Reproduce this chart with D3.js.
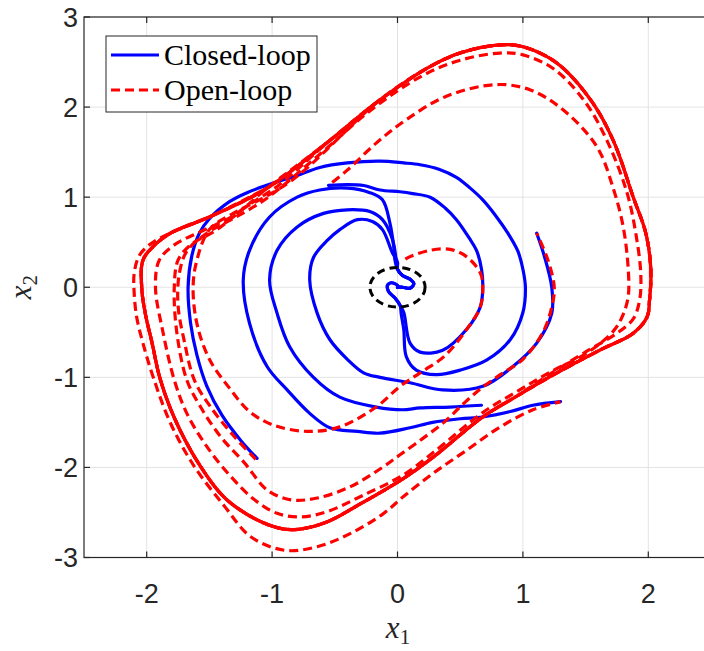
<!DOCTYPE html>
<html>
<head>
<meta charset="utf-8">
<script src="https://cdn.jsdelivr.net/npm/d3@7"></script>
<style>
  body { margin: 0; background: #fff; }
  svg { display: block; }
</style>
</head>
<body>
<svg id="chart" width="704" height="651"></svg>
<script>
// ---- axes ----
const xTicks = [-2, -1, 0, 1, 2];
const yTicks = [-3, -2, -1, 0, 1, 2, 3];
const xDomain = [-2.5, 2.5];
const yDomain = [-3, 3];

// ---- closed-loop trajectories (x1, x2) ----
const closedTailTop = [[0.0, 0.2], [0.04, 0.13], [0.1, 0.09], [0.13, 0.04], [0.1, -0.01], [0.04, 0.0], [0.0, 0.0]];
const closedTailBottom = [[0.02, -0.2], [-0.02, -0.12], [-0.07, -0.05], [-0.08, 0.02], [-0.05, 0.05], [0.0, 0.02], [0.0, 0.0]];

const closed1 = [[-1.12, -1.9], [-1.25, -1.7], [-1.4, -1.42], [-1.52, -1.1], [-1.6, -0.75], [-1.65, -0.4], [-1.67, 0],
  [-1.64, 0.35], [-1.58, 0.6], [-1.5, 0.76], [-1.34, 0.95], [-1.2, 1.05], [-0.94, 1.18], [-0.8, 1.24], [-0.62, 1.33],
  [-0.4, 1.38], [-0.14, 1.4], [0.05, 1.38], [0.18, 1.36], [0.33, 1.31], [0.47, 1.22], [0.58, 1.1], [0.68, 0.97],
  [0.78, 0.8], [0.88, 0.6], [0.96, 0.4], [1.0, 0.2], [1.02, 0], [1.0, -0.28], [0.9, -0.58], [0.71, -0.81],
  [0.5, -0.92], [0.31, -0.97], [0.15, -0.92], [0.07, -0.77], [0.05, -0.47], [0.03, -0.3]];
const closed2 = [[1.3, -1.27], [1.08, -1.31], [0.9, -1.38], [0.68, -1.44], [0.5, -1.46], [0.28, -1.5], [0.1, -1.56],
  [-0.14, -1.62], [-0.32, -1.6], [-0.54, -1.56], [-0.7, -1.4], [-0.88, -1.14], [-1.04, -0.88], [-1.18, -0.4],
  [-1.23, 0.08], [-1.18, 0.41], [-1.02, 0.78], [-0.8, 1.0], [-0.62, 1.08], [-0.4, 1.1], [-0.22, 1.05],
  [-0.12, 0.97], [-0.06, 0.71], [-0.03, 0.45], [-0.02, 0.3]];
const closed3 = [[0.67, -1.31], [0.42, -1.33], [0.18, -1.34], [0.04, -1.36], [-0.17, -1.33], [-0.46, -1.22],
  [-0.67, -1.0], [-0.86, -0.66], [-0.96, -0.29], [-1.02, 0.08], [-0.96, 0.41], [-0.8, 0.67], [-0.59, 0.82],
  [-0.4, 0.86], [-0.22, 0.84], [-0.12, 0.75], [-0.04, 0.53], [-0.01, 0.3]];
const closed4 = [[1.11, 0.6], [1.17, 0.35], [1.23, 0], [1.23, -0.29], [1.11, -0.62], [0.92, -0.88], [0.68, -1.1],
  [0.36, -1.14], [0.1, -1.06], [-0.14, -1.0], [-0.27, -0.95], [-0.4, -0.8], [-0.54, -0.58], [-0.64, -0.29],
  [-0.7, 0.08], [-0.67, 0.33], [-0.56, 0.52], [-0.46, 0.64], [-0.32, 0.75], [-0.2, 0.73], [-0.12, 0.64],
  [-0.04, 0.38], [0.0, 0.28]];
const closed5 = [[-0.55, 1.13], [-0.4, 1.14], [-0.27, 1.13], [-0.14, 1.08], [0.02, 1.06], [0.12, 1.04], [0.26, 1.0],
  [0.38, 0.88], [0.47, 0.75], [0.57, 0.55], [0.63, 0.41], [0.67, 0.2], [0.68, 0], [0.66, -0.22], [0.55, -0.47],
  [0.36, -0.7], [0.18, -0.72], [0.1, -0.62], [0.05, -0.28]];

// ---- open-loop: limit cycle (clockwise) and transients ----
const limitCycle = [[-2.04, 0.0], [-2.03, 0.3], [-1.95, 0.45], [-1.81, 0.6], [-1.5, 0.78], [-1.04, 1.1],
  [-0.54, 1.63], [-0.14, 2.08], [0.26, 2.45], [0.52, 2.61], [0.82, 2.69], [1.0, 2.67], [1.27, 2.49],
  [1.54, 2.08], [1.72, 1.63], [1.88, 1.0], [1.98, 0.6], [2.02, 0.2], [2.01, -0.14], [1.99, -0.33],
  [1.88, -0.51], [1.61, -0.7], [1.22, -0.99], [0.95, -1.21], [0.68, -1.44], [0.29, -1.88], [0.05, -2.12],
  [-0.29, -2.4], [-0.59, -2.62], [-0.85, -2.69], [-1.06, -2.62], [-1.36, -2.36], [-1.57, -1.99],
  [-1.76, -1.51], [-1.89, -1.03], [-1.96, -0.6], [-2.01, -0.3]];

const open1 = [[-1.13, -1.91], [-1.3, -1.66], [-1.49, -1.33], [-1.62, -1.03], [-1.7, -0.6], [-1.75, -0.2],
  [-1.74, 0.15], [-1.68, 0.4], [-1.52, 0.6], [-1.3, 0.77], [-1.05, 0.98], [-0.6, 1.5], [-0.2, 1.98],
  [0.2, 2.35], [0.5, 2.52], [0.82, 2.6], [1.0, 2.58], [1.25, 2.42], [1.5, 2.05], [1.68, 1.6], [1.83, 1.05],
  [1.9, 0.6], [1.94, 0.15], [1.93, -0.15], [1.88, -0.35], [1.75, -0.51], [1.51, -0.71], [1.22, -0.96]];
const open2 = [[1.3, -1.27], [1.08, -1.36], [0.82, -1.55], [0.55, -1.81], [0.29, -2.06], [0.05, -2.32],
  [-0.11, -2.51], [-0.37, -2.73], [-0.64, -2.88], [-0.9, -2.92], [-1.17, -2.77], [-1.38, -2.43],
  [-1.62, -1.99], [-1.81, -1.51], [-1.95, -0.99], [-2.03, -0.62], [-2.08, -0.33], [-2.1, -0.06],
  [-2.1, 0.15], [-2.06, 0.35], [-1.97, 0.48], [-1.83, 0.59], [-1.62, 0.71]];
const open4 = [[1.11, 0.6], [1.2, 0.3], [1.25, 0], [1.23, -0.22], [1.16, -0.5], [1.0, -0.8], [0.82, -0.97],
  [0.66, -1.13], [0.52, -1.3], [0.37, -1.5], [0.2, -1.68], [0.02, -1.86], [-0.11, -1.99], [-0.37, -2.21],
  [-0.64, -2.34], [-0.85, -2.36], [-1.04, -2.25], [-1.22, -1.95], [-1.41, -1.66], [-1.57, -1.33],
  [-1.68, -1.03], [-1.76, -0.5], [-1.78, 0], [-1.75, 0.3], [-1.65, 0.47], [-1.45, 0.63], [-1.2, 0.9],
  [-0.95, 1.13]];
const open5 = [[-0.55, 1.13], [-0.4, 1.3], [-0.17, 1.6], [0.07, 1.86], [0.39, 2.12], [0.79, 2.25], [1.06, 2.19],
  [1.32, 1.97], [1.59, 1.56], [1.72, 1.1], [1.8, 0.67], [1.84, 0.2], [1.84, -0.1], [1.8, -0.3], [1.72, -0.49],
  [1.51, -0.73], [1.22, -0.94], [0.95, -1.16], [0.68, -1.39], [0.29, -1.83], [0.05, -2.08], [-0.29, -2.32],
  [-0.56, -2.49], [-0.77, -2.55], [-0.96, -2.51], [-1.14, -2.36], [-1.33, -2.1], [-1.52, -1.77],
  [-1.68, -1.4], [-1.78, -1.03], [-1.87, -0.5], [-1.93, 0], [-1.9, 0.3], [-1.78, 0.47], [-1.55, 0.63],
  [-1.3, 0.8]];
const open6 = [[0.05, 0.3], [0.1, 0.34], [0.26, 0.41], [0.42, 0.42], [0.55, 0.34], [0.66, 0.16], [0.68, 0],
  [0.66, -0.22], [0.55, -0.47], [0.37, -0.77], [0.18, -0.95], [0.02, -1.1], [-0.17, -1.33], [-0.46, -1.55],
  [-0.72, -1.6], [-0.99, -1.53], [-1.18, -1.38], [-1.34, -1.12], [-1.5, -0.8], [-1.6, -0.4], [-1.63, 0],
  [-1.6, 0.3], [-1.5, 0.64], [-1.31, 0.82], [-1.1, 0.97], [-0.88, 1.15], [-0.7, 1.35]];

// index of the limit-cycle point where each transient joins it
const openMerge = [23, 4, 6, 5, 7];

// region around the origin
const regionCenter = [0, 0];
const regionRadius = 0.22;

const legendLabels = ["Closed-loop", "Open-loop"];

// ---- layout ----
const plot = { left: 84, top: 17, right: 711, bottom: 557.5 };
const svg = d3.select("#chart");
const x = d3.scaleLinear().domain(xDomain).range([plot.left, plot.right]);
const y = d3.scaleLinear().domain(yDomain).range([plot.bottom, plot.top]);
const axisColor = "#262626";

svg.append("defs").append("clipPath").attr("id", "plotClip")
  .append("rect").attr("x", plot.left).attr("y", plot.top)
  .attr("width", plot.right - plot.left).attr("height", plot.bottom - plot.top);

// grid
const grid = svg.append("g").attr("stroke", "#e3e3e3").attr("stroke-width", 1);
grid.selectAll("line.gx").data(xTicks).join("line")
  .attr("x1", d => x(d)).attr("x2", d => x(d)).attr("y1", plot.top).attr("y2", plot.bottom);
grid.selectAll("line.gy").data(yTicks).join("line")
  .attr("y1", d => y(d)).attr("y2", d => y(d)).attr("x1", plot.left).attr("x2", plot.right);

// curves
const line = d3.line().x(d => x(d[0])).y(d => y(d[1])).curve(d3.curveCatmullRom.alpha(0.5));
const data = svg.append("g").attr("clip-path", "url(#plotClip)");

const closedPaths = [
  closed1.concat(closedTailBottom),
  closed2.concat(closedTailTop),
  closed3.concat(closedTailTop),
  closed4.concat(closedTailTop),
  closed5.concat(closedTailBottom)
];
data.selectAll("path.closed").data(closedPaths).join("path")
  .attr("class", "closed")
  .attr("d", line)
  .attr("fill", "none").attr("stroke", "#0000ff").attr("stroke-width", 3.2)
  .attr("stroke-linejoin", "round").attr("stroke-linecap", "round");

// each transient runs on for one lap of the limit cycle after joining it
function joinCycle(transient, k) {
  const out = transient.slice();
  const n = limitCycle.length;
  for (let i = 0; i <= n; i++) out.push(limitCycle[(k + i) % n]);
  return out;
}
const openPaths = [
  joinCycle(open1, openMerge[0]),
  joinCycle(open2, openMerge[1]),
  joinCycle(open4, openMerge[2]),
  joinCycle(open5, openMerge[3]),
  joinCycle(open6, openMerge[4])
];
data.selectAll("path.open").data(openPaths).join("path")
  .attr("class", "open")
  .attr("d", line)
  .attr("fill", "none").attr("stroke", "#ff0000").attr("stroke-width", 3.2)
  .attr("stroke-dasharray", "9,5")
  .attr("stroke-dashoffset", (d, i) => i * 3);

// dashed region around the origin
data.append("ellipse")
  .attr("cx", x(regionCenter[0])).attr("cy", y(regionCenter[1]))
  .attr("rx", x(regionRadius) - x(0)).attr("ry", y(0) - y(regionRadius))
  .attr("fill", "none").attr("stroke", "#000").attr("stroke-width", 3)
  .attr("stroke-dasharray", "8,5");

// frame and ticks
svg.append("rect")
  .attr("x", plot.left).attr("y", plot.top)
  .attr("width", plot.right - plot.left).attr("height", plot.bottom - plot.top)
  .attr("fill", "none").attr("stroke", axisColor).attr("stroke-width", 1.2);
const tickLen = 6;
const ticks = svg.append("g").attr("stroke", axisColor).attr("stroke-width", 1.2);
ticks.selectAll("line.tb").data(xTicks).join("line")
  .attr("x1", d => x(d)).attr("x2", d => x(d)).attr("y1", plot.bottom).attr("y2", plot.bottom - tickLen);
ticks.selectAll("line.tt").data(xTicks).join("line")
  .attr("x1", d => x(d)).attr("x2", d => x(d)).attr("y1", plot.top).attr("y2", plot.top + tickLen);
ticks.selectAll("line.tl").data(yTicks).join("line")
  .attr("y1", d => y(d)).attr("y2", d => y(d)).attr("x1", plot.left).attr("x2", plot.left + tickLen);

// tick labels
const tickFont = "'Liberation Sans', Arial, sans-serif";
svg.append("g").selectAll("text").data(xTicks).join("text")
  .attr("x", d => x(d)).attr("y", 603)
  .attr("text-anchor", "middle").attr("font-family", tickFont).attr("font-size", 27)
  .attr("fill", axisColor).text(d => d);
svg.append("g").selectAll("text").data(yTicks).join("text")
  .attr("x", 78).attr("y", d => y(d) + 9.8)
  .attr("text-anchor", "end").attr("font-family", tickFont).attr("font-size", 27)
  .attr("fill", axisColor).text(d => d);

// axis labels
const mathFont = "'Liberation Serif', 'Times New Roman', serif";
const xl = svg.append("text").attr("x", 398).attr("y", 638).attr("text-anchor", "middle")
  .attr("font-family", mathFont).attr("font-size", 31).attr("fill", axisColor);
xl.append("tspan").attr("font-style", "italic").text("x");
xl.append("tspan").attr("font-size", 21).attr("dy", 6).text("1");
const yl = svg.append("text").attr("transform", "translate(31,287) rotate(-90)").attr("text-anchor", "middle")
  .attr("font-family", mathFont).attr("font-size", 31).attr("fill", axisColor);
yl.append("tspan").attr("font-style", "italic").text("x");
yl.append("tspan").attr("font-size", 21).attr("dy", 6).text("2");

// legend
const lg = svg.append("g");
lg.append("rect").attr("x", 106).attr("y", 36).attr("width", 211).attr("height", 76)
  .attr("fill", "#fff").attr("stroke", axisColor).attr("stroke-width", 1);
const legendY = [55, 90];
lg.append("line").attr("x1", 111).attr("x2", 159).attr("y1", legendY[0]).attr("y2", legendY[0])
  .attr("stroke", "#0000ff").attr("stroke-width", 3.2);
lg.append("line").attr("x1", 111).attr("x2", 159).attr("y1", legendY[1]).attr("y2", legendY[1])
  .attr("stroke", "#ff0000").attr("stroke-width", 3.2).attr("stroke-dasharray", "9,5");
lg.selectAll("text").data(legendLabels).join("text")
  .attr("x", 164).attr("y", (d, i) => legendY[i] + 9.5)
  .attr("font-family", mathFont).attr("font-size", 30).attr("fill", "#000")
  .text(d => d);
</script>
</body>
</html>
